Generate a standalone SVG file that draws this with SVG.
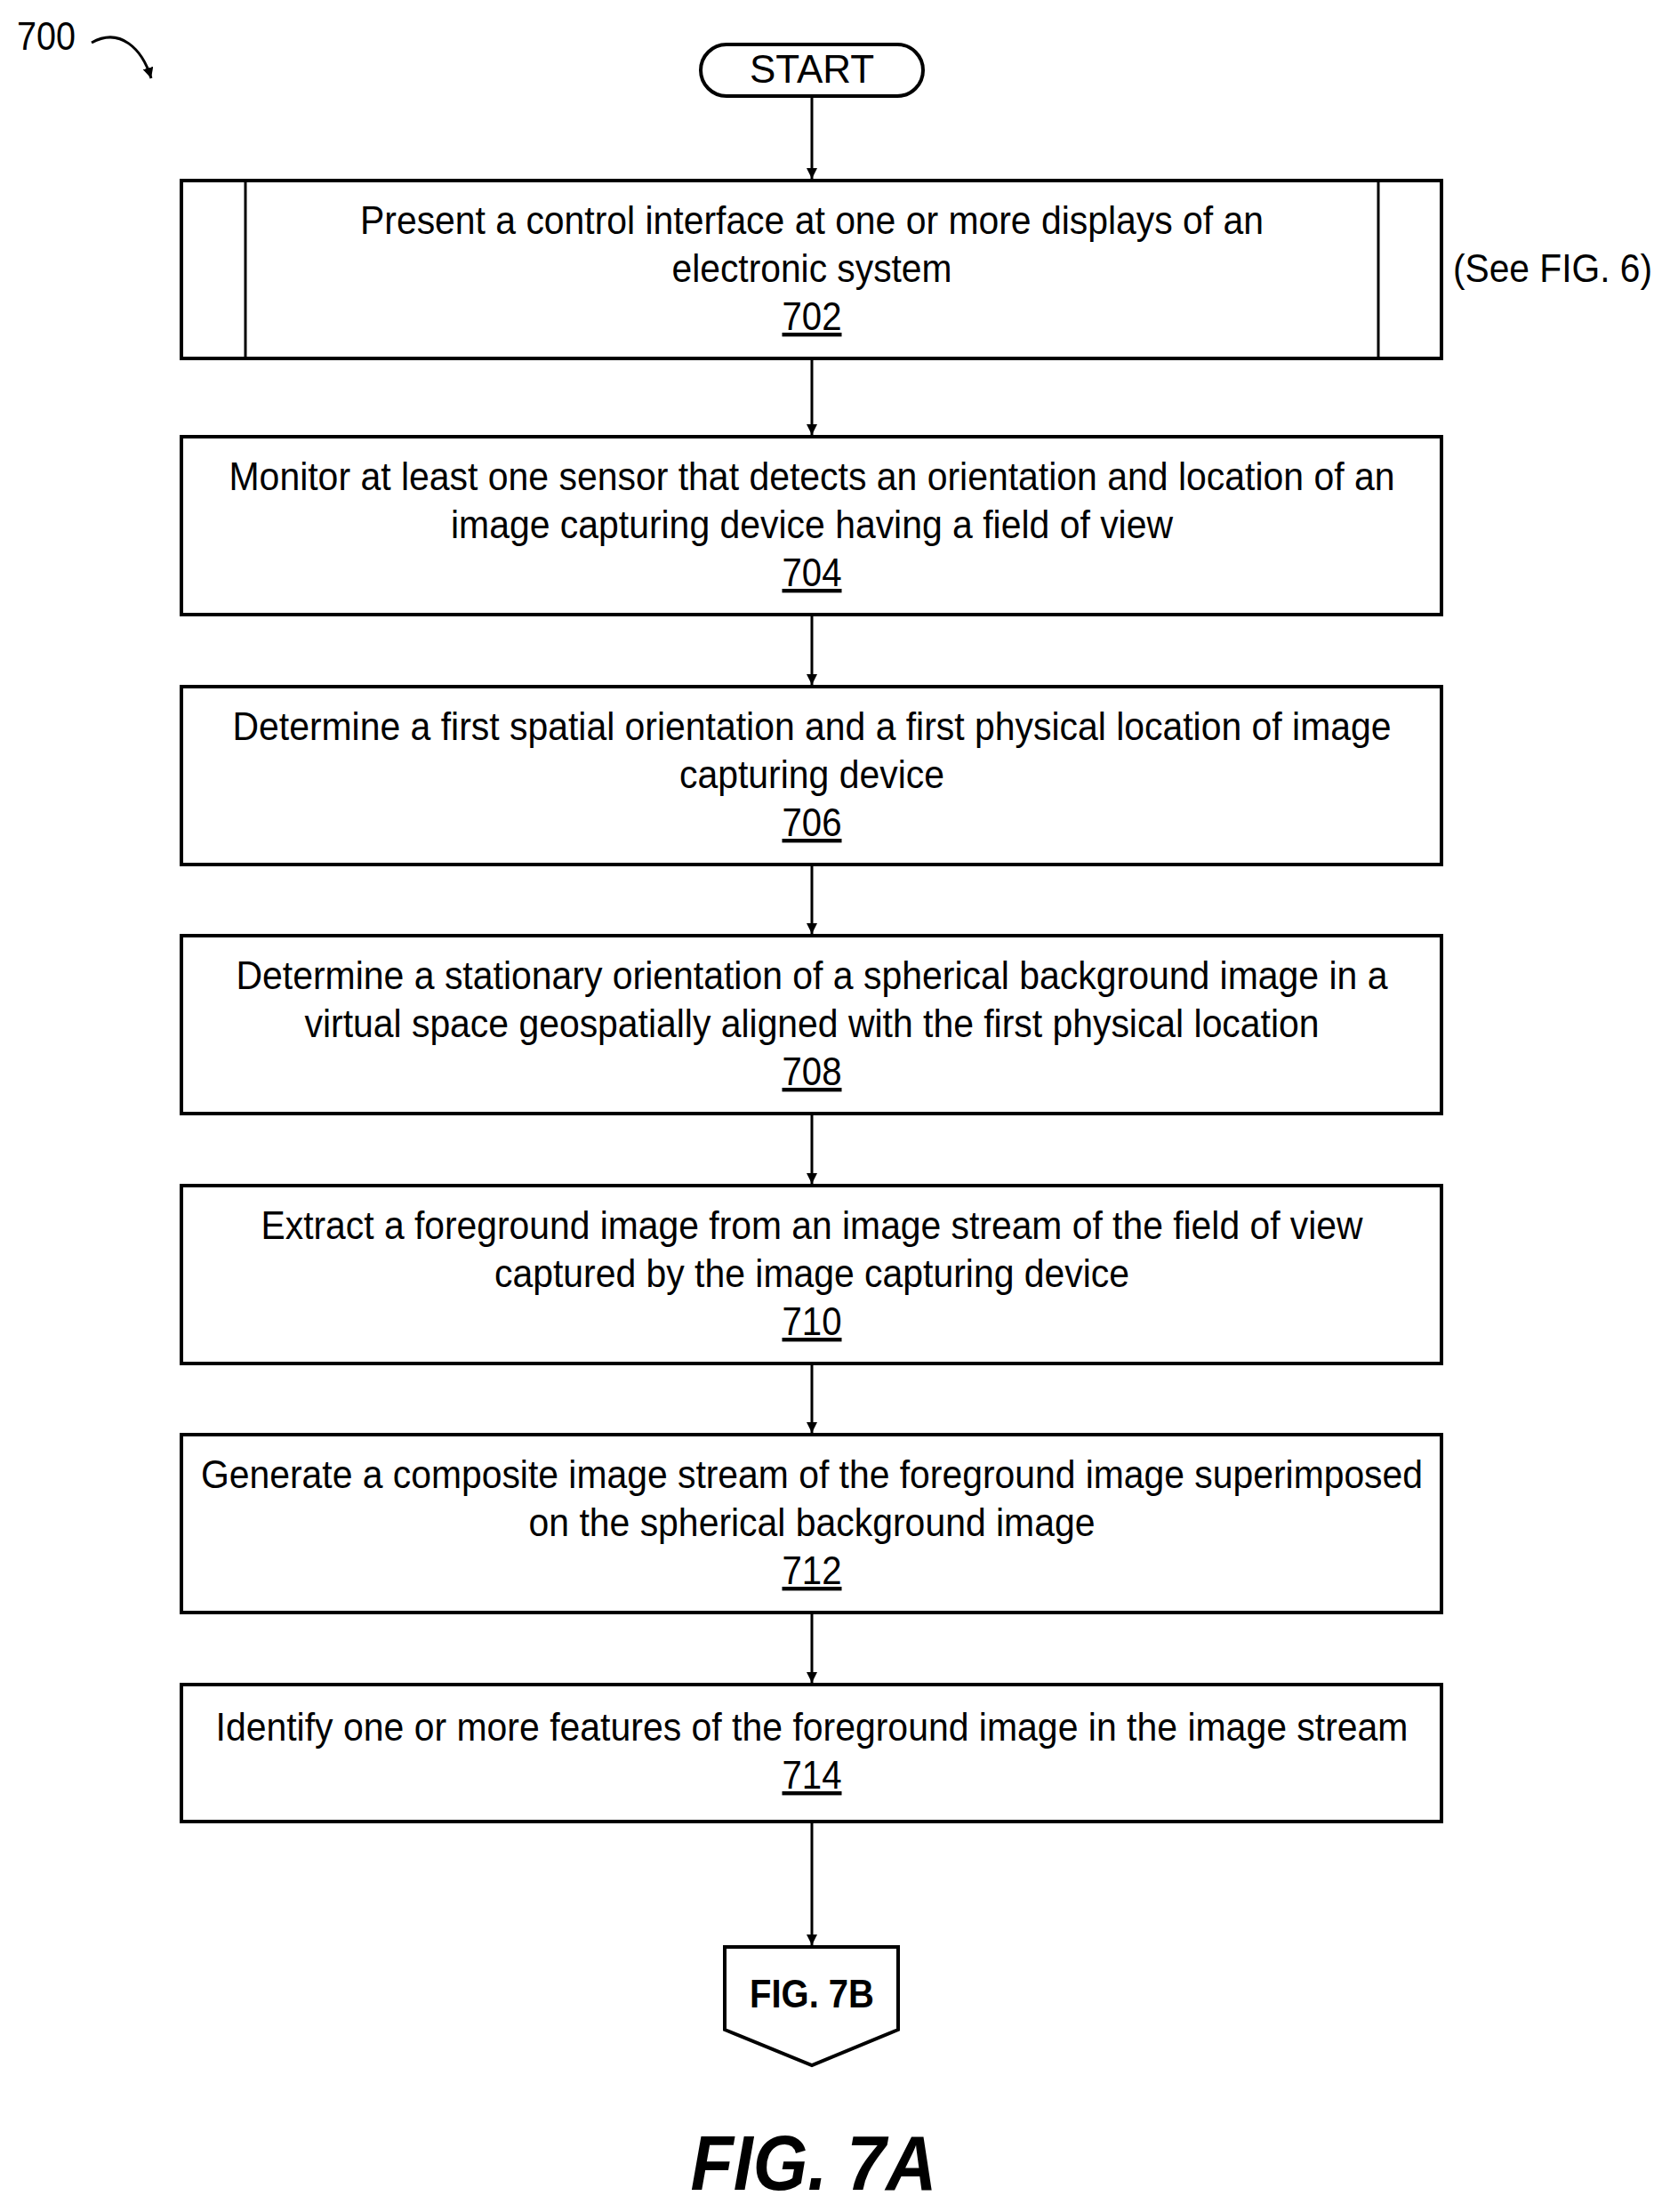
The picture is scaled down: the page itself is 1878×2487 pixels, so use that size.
<svg xmlns="http://www.w3.org/2000/svg" width="1878" height="2487" viewBox="0 0 1878 2487">
<style>
.b{fill:#fff;stroke:#000;stroke-width:4}
.t{font-family:"Liberation Sans",Arial,sans-serif;font-size:44px;text-anchor:middle;fill:#000}
.n{text-decoration:underline}
.c{stroke:#000;stroke-width:3;fill:none}
</style>
<defs><marker id="a" markerWidth="12" markerHeight="12" refX="10" refY="5" orient="auto" markerUnits="userSpaceOnUse" viewBox="0 0 10 10"><path d="M0,0 L10,5 L0,10 z" fill="#000"/></marker></defs>
<text x="19" y="56" class="t" style="text-anchor:start" textLength="66" lengthAdjust="spacingAndGlyphs">700</text>
<path d="M103,48 C135,30 160,55 170,88" class="c" marker-end="url(#a)"/>
<g id="start"><rect x="788" y="50" width="250" height="58" rx="29" class="b"/><text x="913" y="93" class="t" textLength="140" lengthAdjust="spacingAndGlyphs">START</text></g>
<g id="n702"><rect x="204" y="203" width="1417" height="200" class="b"/><line x1="276" y1="203" x2="276" y2="403" stroke="#000" stroke-width="3"/><line x1="1550" y1="203" x2="1550" y2="403" stroke="#000" stroke-width="3"/>
<text x="913" y="263" class="t" textLength="1016" lengthAdjust="spacingAndGlyphs">Present a control interface at one or more displays of an</text>
<text x="913" y="317" class="t" textLength="315" lengthAdjust="spacingAndGlyphs">electronic system</text>
<text x="913" y="371" class="t n" textLength="67" lengthAdjust="spacingAndGlyphs">702</text></g>
<text x="1634" y="317" class="t" style="text-anchor:start" textLength="224" lengthAdjust="spacingAndGlyphs">(See FIG. 6)</text>
<g id="n704"><rect x="204" y="491" width="1417" height="200" class="b"/>
<text x="913" y="551" class="t" textLength="1311" lengthAdjust="spacingAndGlyphs">Monitor at least one sensor that detects an orientation and location of an</text>
<text x="913" y="605" class="t" textLength="812" lengthAdjust="spacingAndGlyphs">image capturing device having a field of view</text>
<text x="913" y="659" class="t n" textLength="67" lengthAdjust="spacingAndGlyphs">704</text></g>
<g id="n706"><rect x="204" y="772" width="1417" height="200" class="b"/>
<text x="913" y="832" class="t" textLength="1303" lengthAdjust="spacingAndGlyphs">Determine a first spatial orientation and a first physical location of image</text>
<text x="913" y="886" class="t" textLength="298" lengthAdjust="spacingAndGlyphs">capturing device</text>
<text x="913" y="940" class="t n" textLength="67" lengthAdjust="spacingAndGlyphs">706</text></g>
<g id="n708"><rect x="204" y="1052" width="1417" height="200" class="b"/>
<text x="913" y="1112" class="t" textLength="1295" lengthAdjust="spacingAndGlyphs">Determine a stationary orientation of a spherical background image in a</text>
<text x="913" y="1166" class="t" textLength="1141" lengthAdjust="spacingAndGlyphs">virtual space geospatially aligned with the first physical location</text>
<text x="913" y="1220" class="t n" textLength="67" lengthAdjust="spacingAndGlyphs">708</text></g>
<g id="n710"><rect x="204" y="1333" width="1417" height="200" class="b"/>
<text x="913" y="1393" class="t" textLength="1239" lengthAdjust="spacingAndGlyphs">Extract a foreground image from an image stream of the field of view</text>
<text x="913" y="1447" class="t" textLength="714" lengthAdjust="spacingAndGlyphs">captured by the image capturing device</text>
<text x="913" y="1501" class="t n" textLength="67" lengthAdjust="spacingAndGlyphs">710</text></g>
<g id="n712"><rect x="204" y="1613" width="1417" height="200" class="b"/>
<text x="913" y="1673" class="t" textLength="1374" lengthAdjust="spacingAndGlyphs">Generate a composite image stream of the foreground image superimposed</text>
<text x="913" y="1727" class="t" textLength="637" lengthAdjust="spacingAndGlyphs">on the spherical background image</text>
<text x="913" y="1781" class="t n" textLength="67" lengthAdjust="spacingAndGlyphs">712</text></g>
<g id="n714"><rect x="204" y="1894" width="1417" height="154" class="b"/>
<text x="913" y="1957" class="t" textLength="1341" lengthAdjust="spacingAndGlyphs">Identify one or more features of the foreground image in the image stream</text>
<text x="913" y="2011" class="t n" textLength="67" lengthAdjust="spacingAndGlyphs">714</text></g>
<g id="fig7b"><path d="M815,2189 H1010 V2282 L913,2322 L815,2282 Z" class="b"/><text x="913" y="2257" class="t" style="font-weight:bold" textLength="140" lengthAdjust="spacingAndGlyphs">FIG. 7B</text></g>
<g id="connectors">
<line x1="913" y1="108" x2="913" y2="201" class="c" marker-end="url(#a)"/>
<line x1="913" y1="403" x2="913" y2="489" class="c" marker-end="url(#a)"/>
<line x1="913" y1="691" x2="913" y2="770" class="c" marker-end="url(#a)"/>
<line x1="913" y1="972" x2="913" y2="1050" class="c" marker-end="url(#a)"/>
<line x1="913" y1="1252" x2="913" y2="1331" class="c" marker-end="url(#a)"/>
<line x1="913" y1="1533" x2="913" y2="1611" class="c" marker-end="url(#a)"/>
<line x1="913" y1="1813" x2="913" y2="1892" class="c" marker-end="url(#a)"/>
<line x1="913" y1="2048" x2="913" y2="2187" class="c" marker-end="url(#a)"/>
</g>
<text x="915" y="2462" class="t" style="font-weight:bold;font-style:italic;font-size:88px" textLength="277" lengthAdjust="spacingAndGlyphs">FIG. 7A</text>
</svg>
